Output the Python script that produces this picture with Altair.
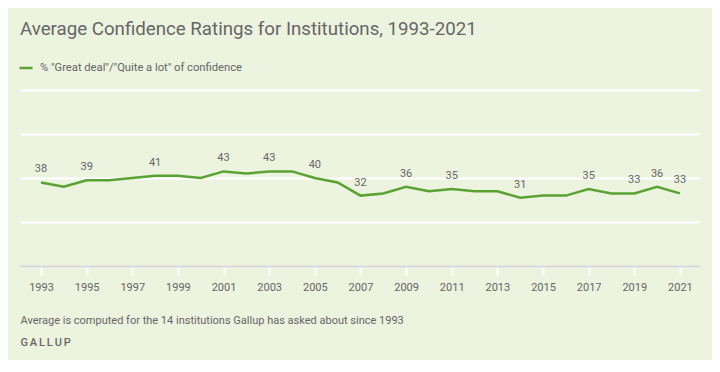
import altair as alt
import pandas as pd

years = list(range(1993, 2022))
values = [38, 36, 39, 39, 40, 41, 41, 40, 43, 42, 43, 43, 40, 38, 32,
          33, 36, 34, 35, 34, 34, 31, 32, 32, 35, 33, 33, 36, 33]
labeled_years = [1993, 1995, 1998, 2001, 2003, 2005, 2007, 2009, 2011,
                 2014, 2017, 2019, 2020, 2021]
series_name = '% "Great deal"/"Quite a lot" of confidence'
tick_years = list(range(1993, 2022, 2))
y_grid = [0, 20, 40, 60, 80]
title_text = "Average Confidence Ratings for Institutions, 1993-2021"
note_text = "Average is computed for the 14 institutions Gallup has asked about since 1993"
source_text = "G\u2006A\u2006L\u2006L\u2006U\u2006P"

df = pd.DataFrame({"year": years, "value": values, "series": series_name})
df["labeled"] = df["year"].isin(labeled_years)

FONT = "Roboto"
GRAY = "#666666"
GREEN = "#5aa232"
BG = "#ecf3de"

x_enc = alt.X(
    "year:Q",
    scale=alt.Scale(domain=[1992.08, 2021.88], nice=False, zero=False),
    axis=alt.Axis(
        values=tick_years, format="d", grid=False,
        domainColor="#d8d8d8", domainWidth=2,
        tickColor="white", tickWidth=2, tickSize=9,
        labelPadding=6, labelFontSize=11, labelColor=GRAY, labelFont=FONT,
        title=note_text, titleX=0, titleY=54, titleAlign="left",
        titleBaseline="middle", titleFontSize=11, titleFontWeight="normal",
        titleColor=GRAY, titleFont=FONT,
    ),
)
y_enc = alt.Y(
    "value:Q",
    scale=alt.Scale(domain=[0, 80], nice=False),
    axis=alt.Axis(
        values=y_grid, labels=False, ticks=False, domain=False,
        grid=True, gridColor="white", gridWidth=2,
        title=source_text, titleAngle=0, titleX=0, titleY=252,
        titleAlign="left", titleBaseline="middle", titleFontSize=11,
        titleFontWeight=500, titleColor=GRAY, titleFont=FONT,
    ),
)

line = alt.Chart(df).mark_line(strokeWidth=2.5).encode(
    x=x_enc,
    y=y_enc,
    color=alt.Color(
        "series:N",
        scale=alt.Scale(range=[GREEN]),
        legend=alt.Legend(
            title=None, orient="none", legendX=-2, legendY=-30,
            symbolType="stroke", symbolStrokeWidth=2.5, symbolSize=169,
            labelFontSize=11.2, labelColor=GRAY, labelFont=FONT, labelOffset=6,
            labelLimit=0,
        ),
    ),
)

labels = alt.Chart(df).transform_filter("datum.labeled").mark_text(
    dy=-13, fontSize=11, color=GRAY, font=FONT
).encode(
    x="year:Q",
    y="value:Q",
    text=alt.Text("value:Q", format="d"),
)

chart = alt.layer(line, labels).properties(
    width=680,
    height=176,
    autosize=alt.AutoSizeParams(type="none"),
    padding={"left": 12, "top": 82, "right": 12, "bottom": 94},
    title=alt.TitleParams(
        text=title_text, anchor="start", frame="group", fontSize=18.7,
        font=FONT, color=GRAY, fontWeight="normal", offset=6,
        baseline="alphabetic",
    ),
).configure(background=BG).configure_view(stroke=None)

chart.save("out.html", embed_options={"renderer": "svg", "actions": False})
